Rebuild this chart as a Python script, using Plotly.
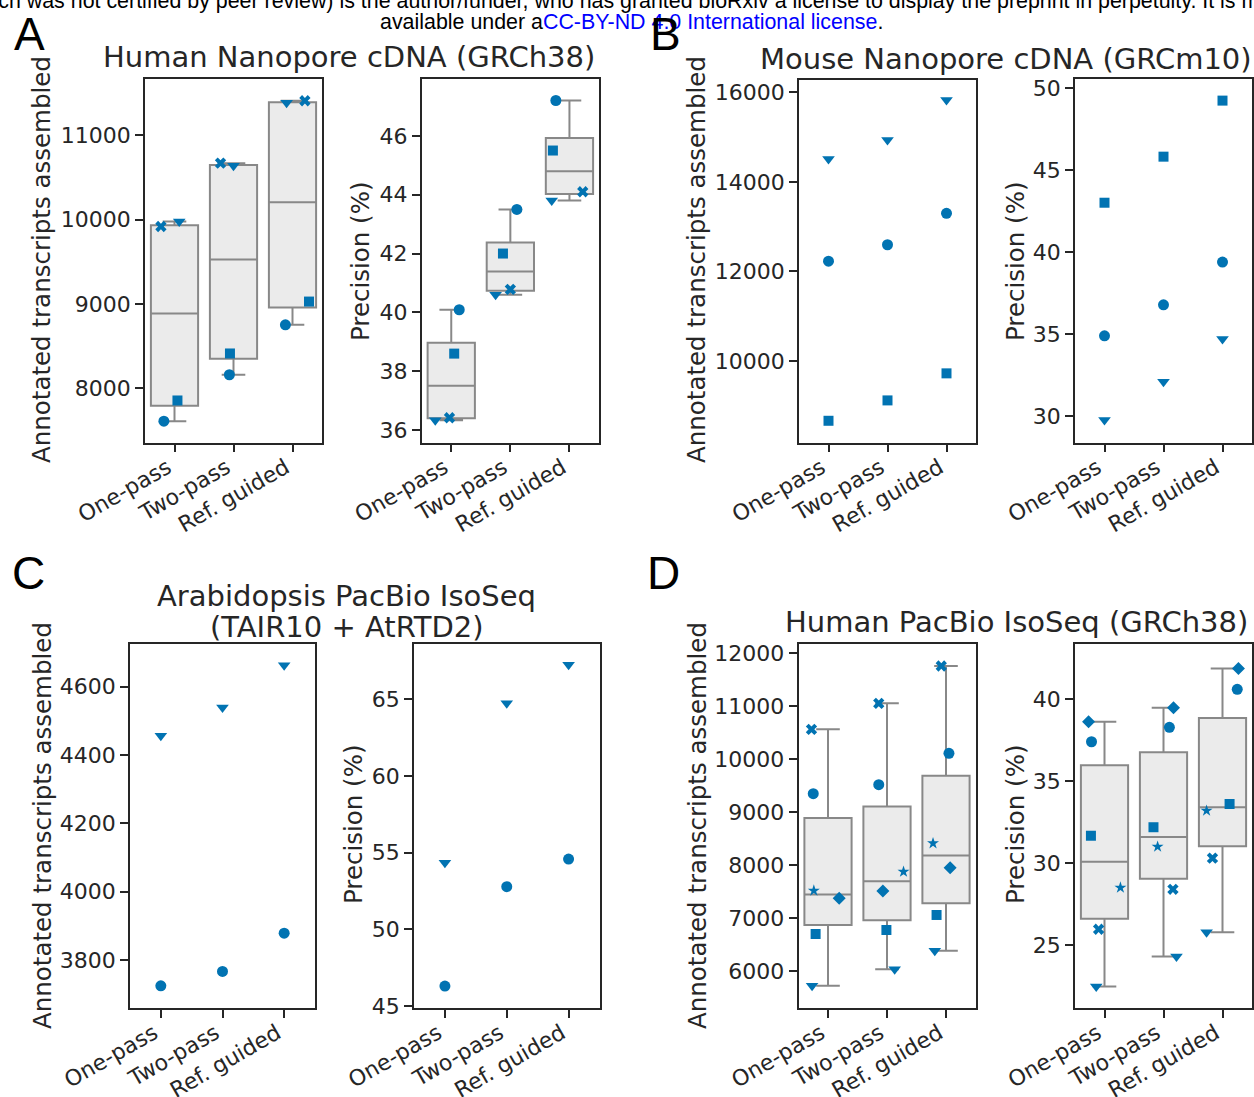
import numpy as np
import plotly.graph_objects as go

W, H = 1254, 1097

CATEGORIES = ["One-pass", "Two-pass", "Ref. guided"]

# ---------------- data ----------------
# A: Human Nanopore cDNA (GRCh38)
A_COUNTS = {
    "circle": [7612, 8163, 8754],
    "square": [7858, 8415, 9030],
    "triangle-down": [9980, 10640, 11385],
    "x": [9920, 10670, 11410],
}
A_PRECISION = {
    "circle": [40.09, 43.5, 47.2],
    "square": [38.6, 42.0, 45.5],
    "triangle-down": [36.34, 40.6, 43.8],
    "x": [36.42, 40.78, 44.1],
}
# B: Mouse Nanopore cDNA (GRCm10)
B_COUNTS = {
    "circle": [12228, 12596, 13297],
    "square": [8665, 9120, 9724],
    "triangle-down": [14510, 14935, 15828],
}
B_PRECISION = {
    "circle": [34.9, 36.79, 39.4],
    "square": [43.02, 45.83, 49.25],
    "triangle-down": [29.76, 32.1, 34.7],
}
# C: Arabidopsis PacBio IsoSeq
C_COUNTS = {
    "circle": [3724, 3766, 3878],
    "triangle-down": [4456, 4539, 4663],
}
C_PRECISION = {
    "circle": [46.3, 52.78, 54.58],
    "triangle-down": [54.34, 64.74, 67.24],
}
# D: Human PacBio IsoSeq (GRCh38)
D_COUNTS = {
    "x": [10565, 11056, 11760],
    "circle": [9348, 9519, 10111],
    "star": [7517, 7875, 8412],
    "diamond": [7373, 7511, 7951],
    "square": [6699, 6774, 7058],
    "triangle-down": [5720, 6035, 6382],
}
D_PRECISION = {
    "diamond": [38.63, 39.49, 41.89],
    "circle": [37.41, 38.29, 40.61],
    "square": [31.67, 32.19, 33.61],
    "star": [28.5, 31.0, 33.2],
    "x": [25.96, 28.4, 30.3],
    "triangle-down": [22.46, 24.29, 25.78],
}

# tick values
A_COUNT_TICKS = [8000, 9000, 10000, 11000]
A_PREC_TICKS = [36, 38, 40, 42, 44, 46]
B_COUNT_TICKS = [10000, 12000, 14000, 16000]
B_PREC_TICKS = [30, 35, 40, 45, 50]
C_COUNT_TICKS = [3800, 4000, 4200, 4400, 4600]
C_PREC_TICKS = [45, 50, 55, 60, 65]
D_COUNT_TICKS = [6000, 7000, 8000, 9000, 10000, 11000, 12000]
D_PREC_TICKS = [25, 30, 35, 40]

# ---------------- layout / style ----------------
# strip-plot jitter (horizontal offsets in category units)
A_COUNTS_JIT = {"circle": [-0.18, -0.07, -0.12], "square": [0.05, -0.06, 0.28],
                "triangle-down": [0.08, 0.0, -0.1], "x": [-0.23, -0.22, 0.21]}
A_PREC_JIT = {"circle": [0.135, 0.11, -0.23], "square": [0.05, -0.125, -0.28],
              "triangle-down": [-0.27, -0.25, -0.3], "x": [-0.03, 0.0, 0.225]}
ZERO_JIT = [0.0, 0.0, 0.0]
D_COUNTS_JIT = {"x": [-0.28, -0.14, -0.08], "circle": [-0.25, -0.14, 0.05],
                "star": [-0.24, 0.28, -0.22], "diamond": [0.19, -0.07, 0.07],
                "square": [-0.21, -0.01, -0.16], "triangle-down": [-0.27, 0.13, -0.19]}
D_PREC_JIT = {"diamond": [-0.27, 0.17, 0.27], "circle": [-0.22, 0.10, 0.25],
              "square": [-0.23, -0.17, 0.12], "star": [0.27, -0.10, -0.27],
              "x": [-0.10, 0.16, -0.17], "triangle-down": [-0.14, 0.22, -0.27]}

BLUE = "#0173B2"
INK = "#262626"
BOX_LINE = "#888888"
BOX_FILL = "#ebebeb"
FONT = "DejaVu Sans"
MARKER_SIZE = {"circle": 11, "square": 10, "triangle-down": 11, "x": 10,
               "diamond": 10, "star": 9}

PANELS = [
    dict(data=A_COUNTS, jit=A_COUNTS_JIT, box=True, px=(145, 322, 79.3, 442.5),
         yr=(7360, 11664), ticks=A_COUNT_TICKS),
    dict(data=A_PRECISION, jit=A_PREC_JIT, box=True, px=(421.7, 599, 79.3, 442.5),
         yr=(35.58, 47.92), ticks=A_PREC_TICKS),
    dict(data=B_COUNTS, jit=None, box=False, px=(799, 976, 79.5, 442.5),
         yr=(8180, 16286), ticks=B_COUNT_TICKS),
    dict(data=B_PRECISION, jit=None, box=False, px=(1075, 1252, 79.3, 442.5),
         yr=(28.39, 50.55), ticks=B_PREC_TICKS),
    dict(data=C_COUNTS, jit=None, box=False, px=(130, 315, 644, 1008),
         yr=(3659, 4725), ticks=C_COUNT_TICKS),
    dict(data=C_PRECISION, jit=None, box=False, px=(414, 599.5, 644, 1008),
         yr=(44.87, 68.6), ticks=C_PREC_TICKS),
    dict(data=D_COUNTS, jit=D_COUNTS_JIT, box=True, px=(798.5, 975.5, 644, 1008),
         yr=(5301, 12176), ticks=D_COUNT_TICKS),
    dict(data=D_PRECISION, jit=D_PREC_JIT, box=True, px=(1075, 1252, 644, 1008),
         yr=(21.15, 43.38), ticks=D_PREC_TICKS),
]


def box_stats(data):
    arr = np.array(list(data.values()), dtype=float)  # replicate x category
    q1, med, q3, lo, hi = [], [], [], [], []
    for j in range(arr.shape[1]):
        v = arr[:, j]
        a, m, b = np.percentile(v, [25, 50, 75])
        iqr = b - a
        inside = v[(v >= a - 1.5 * iqr) & (v <= b + 1.5 * iqr)]
        q1.append(a); med.append(m); q3.append(b)
        lo.append(inside.min()); hi.append(inside.max())
    return q1, med, q3, lo, hi


fig = go.Figure()
layout_axes = {}
xpos = list(range(len(CATEGORIES)))

for i, p in enumerate(PANELS):
    n = i + 1
    xa = "x" if n == 1 else f"x{n}"
    ya = "y" if n == 1 else f"y{n}"
    x0, x1, y0, y1 = p["px"]
    if p["box"]:
        q1, med, q3, lo, hi = box_stats(p["data"])
        fig.add_trace(go.Box(
            x=xpos, q1=q1, median=med, q3=q3, lowerfence=lo, upperfence=hi,
            width=0.8, whiskerwidth=0.5, fillcolor=BOX_FILL,
            line=dict(color=BOX_LINE, width=2), boxpoints=False,
            xaxis=xa, yaxis=ya, showlegend=False, hoverinfo="skip"))
    for sym, vals in p["data"].items():
        jit = p["jit"][sym] if p["jit"] else ZERO_JIT
        fig.add_trace(go.Scatter(
            x=[c + d for c, d in zip(xpos, jit)], y=vals, mode="markers",
            marker=dict(symbol=sym, size=MARKER_SIZE[sym], color=BLUE,
                        line=dict(width=0)),
            xaxis=xa, yaxis=ya, showlegend=False, cliponaxis=False))
    common = dict(showline=True, mirror=True, linecolor=INK, linewidth=1.6,
                  ticks="outside", ticklen=8, tickwidth=1.6, tickcolor=INK,
                  showgrid=False, zeroline=False, automargin=False,
                  tickfont=dict(family=FONT, size=22, color=INK))
    layout_axes["xaxis" if n == 1 else f"xaxis{n}"] = dict(
        domain=[x0 / W, x1 / W], anchor=ya, range=[-0.5, 2.5],
        tickvals=xpos, ticktext=CATEGORIES, tickangle=-30,
        ticklabelshift=-7, ticklabelstandoff=-6, **common)
    layout_axes["yaxis" if n == 1 else f"yaxis{n}"] = dict(
        domain=[1 - y1 / H, 1 - y0 / H], anchor=xa, range=list(p["yr"]),
        tickvals=p["ticks"], ticktext=[str(t) for t in p["ticks"]], **common)


def ann(text, x, y, size, family=FONT, color=INK, angle=0, xanchor="center"):
    return dict(text=text, x=x / W, y=1 - y / H, xref="paper", yref="paper",
                showarrow=False, textangle=angle, xanchor=xanchor,
                yanchor="middle", font=dict(family=family, size=size, color=color))


AXT = 24.5
annotations = [
    ann("(which was not certified by peer review) is the author/funder, who has granted "
        "bioRxiv a license to display the preprint in perpetuity. It is made",
        627, 1, 21.4, family="Liberation Sans", color="black"),
    ann("available under a<span style='color:blue'>CC-BY-ND 4.0 International license</span>.",
        631, 22, 21.4, family="Liberation Sans", color="black"),
    ann("A", 29, 34, 46, family="Liberation Sans", color="black"),
    ann("B", 665, 34, 46, family="Liberation Sans", color="black"),
    ann("C", 28, 573, 46, family="Liberation Sans", color="black"),
    ann("D", 664, 573, 46, family="Liberation Sans", color="black"),
    ann("Human Nanopore cDNA (GRCh38)", 348.5, 57, 29),
    ann("Mouse Nanopore cDNA (GRCm10)", 1006, 59, 29),
    ann("Arabidopsis PacBio IsoSeq", 346, 596, 29),
    ann("(TAIR10 + AtRTD2)", 347, 627, 29),
    ann("Human PacBio IsoSeq (GRCh38)", 1016, 622, 29),
    ann("Annotated transcripts assembled", 42, 260, AXT, angle=-90),
    ann("Precision (%)", 360, 261, AXT, angle=-90),
    ann("Annotated transcripts assembled", 697, 260, AXT, angle=-90),
    ann("Precision (%)", 1015, 261, AXT, angle=-90),
    ann("Annotated transcripts assembled", 42, 826, AXT, angle=-90),
    ann("Precision (%)", 353, 824, AXT, angle=-90),
    ann("Annotated transcripts assembled", 697, 826, AXT, angle=-90),
    ann("Precision (%)", 1015, 824, AXT, angle=-90),
]

fig.update_layout(
    width=W, height=H, margin=dict(l=0, r=0, t=0, b=0, autoexpand=False),
    paper_bgcolor="white", plot_bgcolor="white",
    font=dict(family=FONT, color=INK), annotations=annotations,
    **layout_axes)

fig.write_html("out.html")
